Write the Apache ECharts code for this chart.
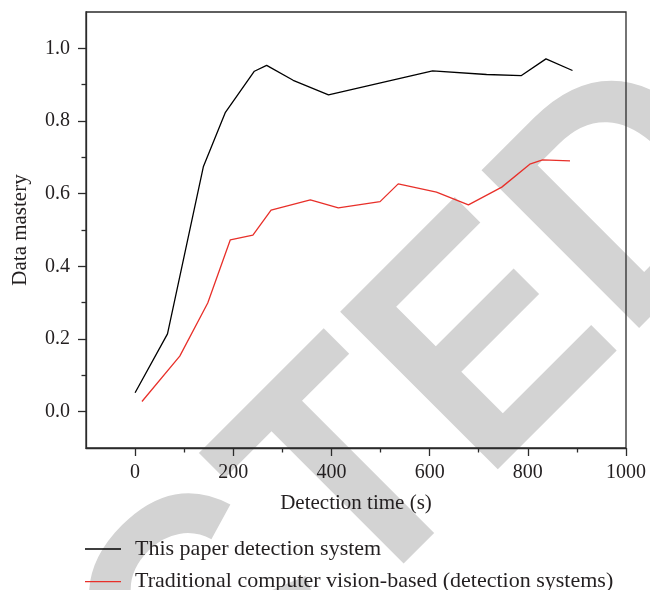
<!DOCTYPE html>
<html>
<head>
<meta charset="utf-8">
<script src="https://cdn.jsdelivr.net/npm/echarts@6/dist/echarts.min.js"></script>
<style>
	html, body { margin: 0; padding: 0; background: #fff; }
	#chart { width: 650px; height: 590px; }
</style>
</head>
<body>
<div id="chart"></div>
<script type="text/javascript">
	// 数据
	var seriesNames = ['This paper detection system', 'Traditional computer vision-based (detection systems)'];
	var paperX = [0, 66, 139, 184, 243, 268, 322, 394, 606, 716, 787, 837, 891];
	var paperY = [0.052, 0.214, 0.674, 0.824, 0.937, 0.953, 0.912, 0.872, 0.938, 0.928, 0.925, 0.971, 0.939];
	var tradX = [14, 91, 148, 194, 240, 277, 357, 414, 499, 536, 614, 679, 747, 804, 830, 886];
	var tradY = [0.028, 0.153, 0.299, 0.473, 0.486, 0.555, 0.583, 0.561, 0.578, 0.627, 0.604, 0.569, 0.618, 0.681, 0.693, 0.690];
	var xMajorTicks = [0, 200, 400, 600, 800, 1000];
	var xMinorTicks = [100, 300, 500, 700, 900];
	var yMajorTicks = [0, 0.2, 0.4, 0.6, 0.8, 1.0];
	var yMinorTicks = [0.1, 0.3, 0.5, 0.7, 0.9];

	function pairs(xs, ys) {
		return xs.map(function (x, i) { return [x, ys[i]]; });
	}

	var serif = 'Liberation Serif';
	var axisColor = '#2b2b2b';
	var textColor = '#231f20';

	// 水印 RETRACTED（斜45度）
	var wmSize = 324, wmScale = 0.925;
	var cv = document.createElement('canvas').getContext('2d');
	cv.font = 'bold ' + wmSize + 'px "Liberation Sans"';
	var wPre = cv.measureText('RETRAC').width;
	var u0 = -183 - wmScale * wPre;
	var v0 = 594.5;
	var wmX = (u0 + v0) / Math.SQRT2, wmY = (v0 - u0) / Math.SQRT2;

	function legendItem(name, top) {
		return {
			orient: 'vertical',
			left: 85, top: top, padding: 0,
			itemWidth: 36, itemHeight: 1.3,
			icon: 'rect',
			textStyle: { fontFamily: serif, fontSize: 22, color: textColor, padding: [0, 0, 0, 9], lineHeight: 24 },
			data: [name]
		};
	}

	var myChart = echarts.init(document.getElementById('chart'), null, { renderer: 'canvas' });
	var option = {
		animation: false,
		backgroundColor: '#fff',
		grid: {
			left: 86, right: 24, top: 12, bottom: 142,
			show: true, borderColor: axisColor, borderWidth: 1.3,
			backgroundColor: 'transparent'
		},
		graphic: {
			elements: [{
				type: 'text',
				z: -10,
				silent: true,
				x: wmX, y: wmY,
				rotation: Math.PI / 4,
				scaleX: wmScale,
				style: {
					text: 'RETRACTED',
					font: 'bold ' + wmSize + 'px "Liberation Sans"',
					fill: '#d3d3d3',
					align: 'left',
					verticalAlign: 'middle'
				}
			}]
		},
		legend: [legendItem(seriesNames[0], 537), legendItem(seriesNames[1], 569.7)],
		xAxis: [{
			type: 'value', min: -100, max: 1000,
			name: 'Detection time (s)', nameLocation: 'middle', nameGap: 44.5,
			nameTextStyle: { fontFamily: serif, fontSize: 21, color: textColor },
			axisLine: { onZero: false, lineStyle: { color: axisColor, width: 1.3 } },
			axisTick: { show: true, length: 8, inside: false, lineStyle: { color: axisColor, width: 1.3 }, customValues: xMajorTicks },
			axisLabel: {
				fontFamily: serif, fontSize: 20, color: textColor, margin: 15, customValues: xMajorTicks,
				formatter: function (v) { return String(v); }
			},
			splitLine: { show: false }
		}, {
			type: 'value', min: -100, max: 1000, position: 'bottom',
			axisLine: { show: false, onZero: false },
			axisTick: { show: true, length: 4.5, lineStyle: { color: axisColor, width: 1.3 }, customValues: xMinorTicks },
			axisLabel: { show: false },
			splitLine: { show: false }
		}],
		yAxis: [{
			type: 'value', min: -0.1, max: 1.1,
			name: 'Data mastery', nameLocation: 'middle', nameGap: 55.5,
			nameTextStyle: { fontFamily: serif, fontSize: 21, color: textColor },
			axisLine: { show: true, onZero: false, lineStyle: { color: axisColor, width: 1.3 } },
			axisTick: { show: true, length: 8, lineStyle: { color: axisColor, width: 1.3 }, customValues: yMajorTicks },
			axisLabel: {
				fontFamily: serif, fontSize: 20, color: textColor, margin: 16, customValues: yMajorTicks,
				formatter: function (v) { return v.toFixed(1); }
			},
			splitLine: { show: false }
		}, {
			type: 'value', min: -0.1, max: 1.1, position: 'left',
			axisLine: { show: false, onZero: false },
			axisTick: { show: true, length: 4.5, lineStyle: { color: axisColor, width: 1.3 }, customValues: yMinorTicks },
			axisLabel: { show: false },
			splitLine: { show: false }
		}],
		series: [{
			name: seriesNames[0], type: 'line', xAxisIndex: 0, yAxisIndex: 0,
			symbol: 'none', z: 3,
			lineStyle: { color: '#000', width: 1.3 },
			itemStyle: { color: '#000' },
			data: pairs(paperX, paperY)
		}, {
			name: seriesNames[1], type: 'line', xAxisIndex: 0, yAxisIndex: 0,
			symbol: 'none', z: 3,
			lineStyle: { color: '#e8302a', width: 1.3 },
			itemStyle: { color: '#e8302a' },
			data: pairs(tradX, tradY)
		}]
	};
	myChart.setOption(option);
</script>
</body>
</html>
